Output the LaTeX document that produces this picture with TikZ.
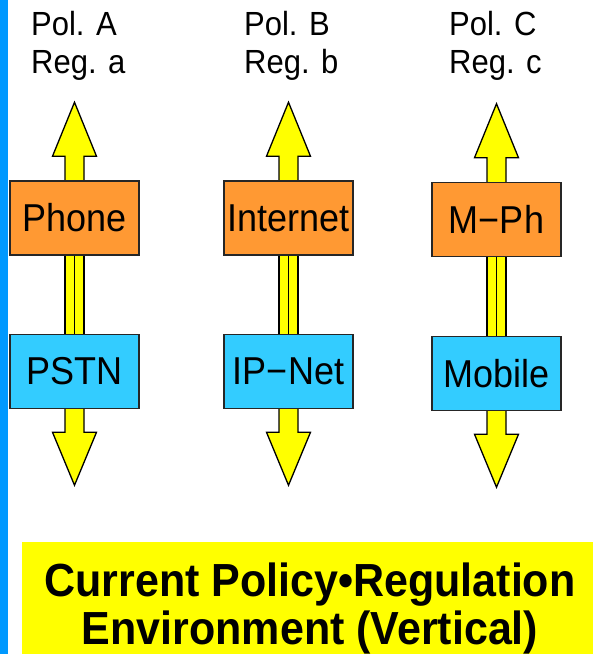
\documentclass[tikz,border=0pt]{standalone}
\usepackage{fontspec}
\usepackage{graphicx}
\setmainfont{Liberation Sans}
\usetikzlibrary{calc,backgrounds}
\definecolor{svcorange}{HTML}{FF9933}
\definecolor{netcyan}{HTML}{33CCFF}
\definecolor{arrowyellow}{HTML}{FFFF00}
\definecolor{barblue}{HTML}{0099FF}
\newcommand{\talltext}[1]{\scalebox{1}[1.08]{#1}}
\begin{document}
\begin{tikzpicture}[x=1pt,y=-1pt,
  box/.style={draw=black!85, line width=1.5pt, minimum width=129pt, minimum height=74pt,
              inner sep=0pt, font=\fontsize{36}{40}\selectfont},
  svc/.style={box, fill=svcorange},
  net/.style={box, fill=netcyan},
  arrowbody/.style={draw=black, fill=arrowyellow, line width=1.3pt, line join=miter},
  lbl/.style={anchor=base west, inner sep=0pt, font=\fontsize{31}{38}\selectfont},
  banner/.style={fill=arrowyellow, draw=none, minimum width=571pt, minimum height=112pt, inner sep=0pt},
  bannertext/.style={anchor=base, inner sep=0pt, font=\bfseries\fontsize{43}{45}\selectfont}]
\useasboundingbox (0,0) rectangle (593,654);
\fill[barblue] (0,0) rectangle (8,654);

% labels
\node[lbl] (polA) at (31,35) {\talltext{Pol. A}};
\node[lbl] (regA) at (31,73) {\talltext{Reg. a}};
\node[lbl] (polB) at (244,35) {\talltext{Pol. B}};
\node[lbl] (regB) at (244,73) {\talltext{Reg. b}};
\node[lbl] (polC) at (449,35) {\talltext{Pol. C}};
\node[lbl] (regC) at (449,73) {\talltext{Reg. c}};

% boxes
\node[svc] (t1) at (74.5,218) {\talltext{Phone}};
\node[net] (b1) at (74.5,371.5) {\talltext{PSTN}};
\node[svc] (t2) at (288.5,218) {\talltext{Internet}};
\node[net] (b2) at (288.5,371.5) {\talltext{IP−Net}};
\node[svc] (t3) at (496.5,219.5) {\talltext{M−Ph}};
\node[net] (b3) at (496.5,373.5) {\talltext{Mobile}};

\begin{scope}[on background layer]
\foreach \i in {1,2,3} {
  % up arrow
  \filldraw[arrowbody]
    ($(t\i.north)+(-9.5,2)$) -- ($(t\i.north)+(-9.5,-24)$) -- ($(t\i.north)+(-22,-24)$)
    -- ($(t\i.north)+(0,-78)$) -- ($(t\i.north)+(22,-24)$) -- ($(t\i.north)+(9.5,-24)$)
    -- ($(t\i.north)+(9.5,2)$);
  % shaft between boxes
  \filldraw[arrowbody] ($(t\i.south)+(-9.5,-2)$) rectangle ($(b\i.north)+(9.5,2)$);
  \draw[line width=1.3pt] (t\i.south) -- (b\i.north);
  % down arrow
  \filldraw[arrowbody]
    ($(b\i.south)+(-9.5,-2)$) -- ($(b\i.south)+(-9.5,23)$) -- ($(b\i.south)+(-22,23)$)
    -- ($(b\i.south)+(0,76)$) -- ($(b\i.south)+(22,23)$) -- ($(b\i.south)+(9.5,23)$)
    -- ($(b\i.south)+(9.5,-2)$);
}
\end{scope}

% banner
\node[banner] (banner) at (307.5,598) {};
\node[bannertext] (bt1) at (310,596) {\talltext{Current Policy•Regulation}};
\node[bannertext] (bt2) at (310,644) {\talltext{Environment (Vertical)}};
\end{tikzpicture}
\end{document}
